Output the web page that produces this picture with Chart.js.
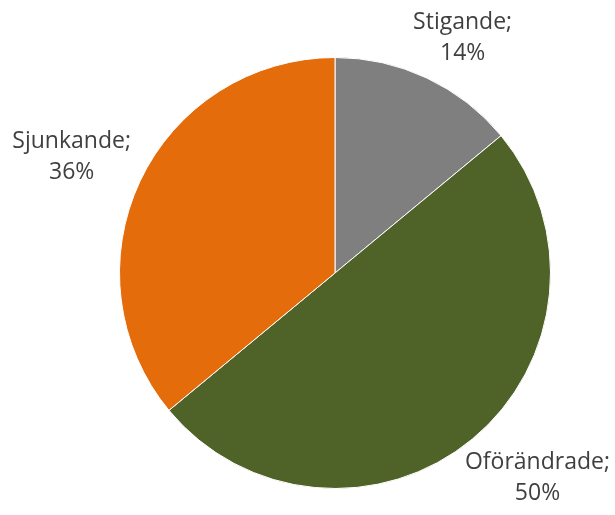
<!DOCTYPE html>
<html>
<head>
<meta charset="utf-8">
<script src="https://cdn.jsdelivr.net/npm/chart.js@4/dist/chart.umd.min.js"></script>
<style>
  html, body { margin: 0; padding: 0; background: #fff; }
  #wrap { width: 615px; height: 515px; }
</style>
</head>
<body>
<div id="wrap"><canvas id="pie" width="615" height="515"></canvas></div>
<script>
var labels = ['Stigande', 'Oförändrade', 'Sjunkande'];
var values = [14, 50, 36];
var colors = ['#7f7f7f', '#4f6228', '#e46c0a'];

// Draw "Name;" / "NN%" outside each slice, like Excel's best-fit labels
var outsideLabels = {
  id: 'outsideLabels',
  afterDatasetsDraw: function (chart) {
    var ctx = chart.ctx;
    var meta = chart.getDatasetMeta(0);
    var total = values.reduce(function (a, b) { return a + b; }, 0);
    ctx.save();
    ctx.font = '23px "Open Sans"';
    ctx.fillStyle = '#404040';
    ctx.textAlign = 'center';
    ctx.textBaseline = 'middle';
    var lineH = 31;
    meta.data.forEach(function (arc, i) {
      var mid = (arc.startAngle + arc.endAngle) / 2;
      var dx = Math.cos(mid), dy = Math.sin(mid);
      var lines = [labels[i] + ';', Math.round(values[i] / total * 100) + '%'];
      var w = Math.max(ctx.measureText(lines[0]).width, ctx.measureText(lines[1]).width);
      var h = lineH * lines.length;
      var r = arc.outerRadius + 10;
      var fx = Math.min(1, Math.abs(dx) * 1.5) * Math.sign(dx);
      var fy = Math.min(1, Math.abs(dy) * 1.5) * Math.sign(dy);
      var cx = arc.x + dx * r + fx * w / 2;
      var cy = arc.y + dy * r + fy * h / 2;
      // keep the box inside the canvas
      cx = Math.max(w / 2 + 5, Math.min(chart.width - w / 2 - 5, cx));
      cy = Math.max(h / 2 + 2, Math.min(chart.height - h / 2 - 2, cy));
      lines.forEach(function (t, k) {
        ctx.fillText(t, cx, cy - h / 2 + lineH * (k + 0.5));
      });
    });
    ctx.restore();
  }
};

var chart = new Chart(document.getElementById('pie').getContext('2d'), {
  type: 'pie',
  data: {
    labels: labels,
    datasets: [{
      data: values,
      backgroundColor: colors,
      borderColor: '#ffffff',
      borderWidth: 1
    }]
  },
  options: {
    responsive: false,
    animation: false,
    layout: { padding: { left: 119, right: 64, top: 57, bottom: 26 } },
    plugins: {
      legend: { display: false },
      tooltip: { enabled: false }
    }
  },
  plugins: [outsideLabels]
});
</script>
</body>
</html>
